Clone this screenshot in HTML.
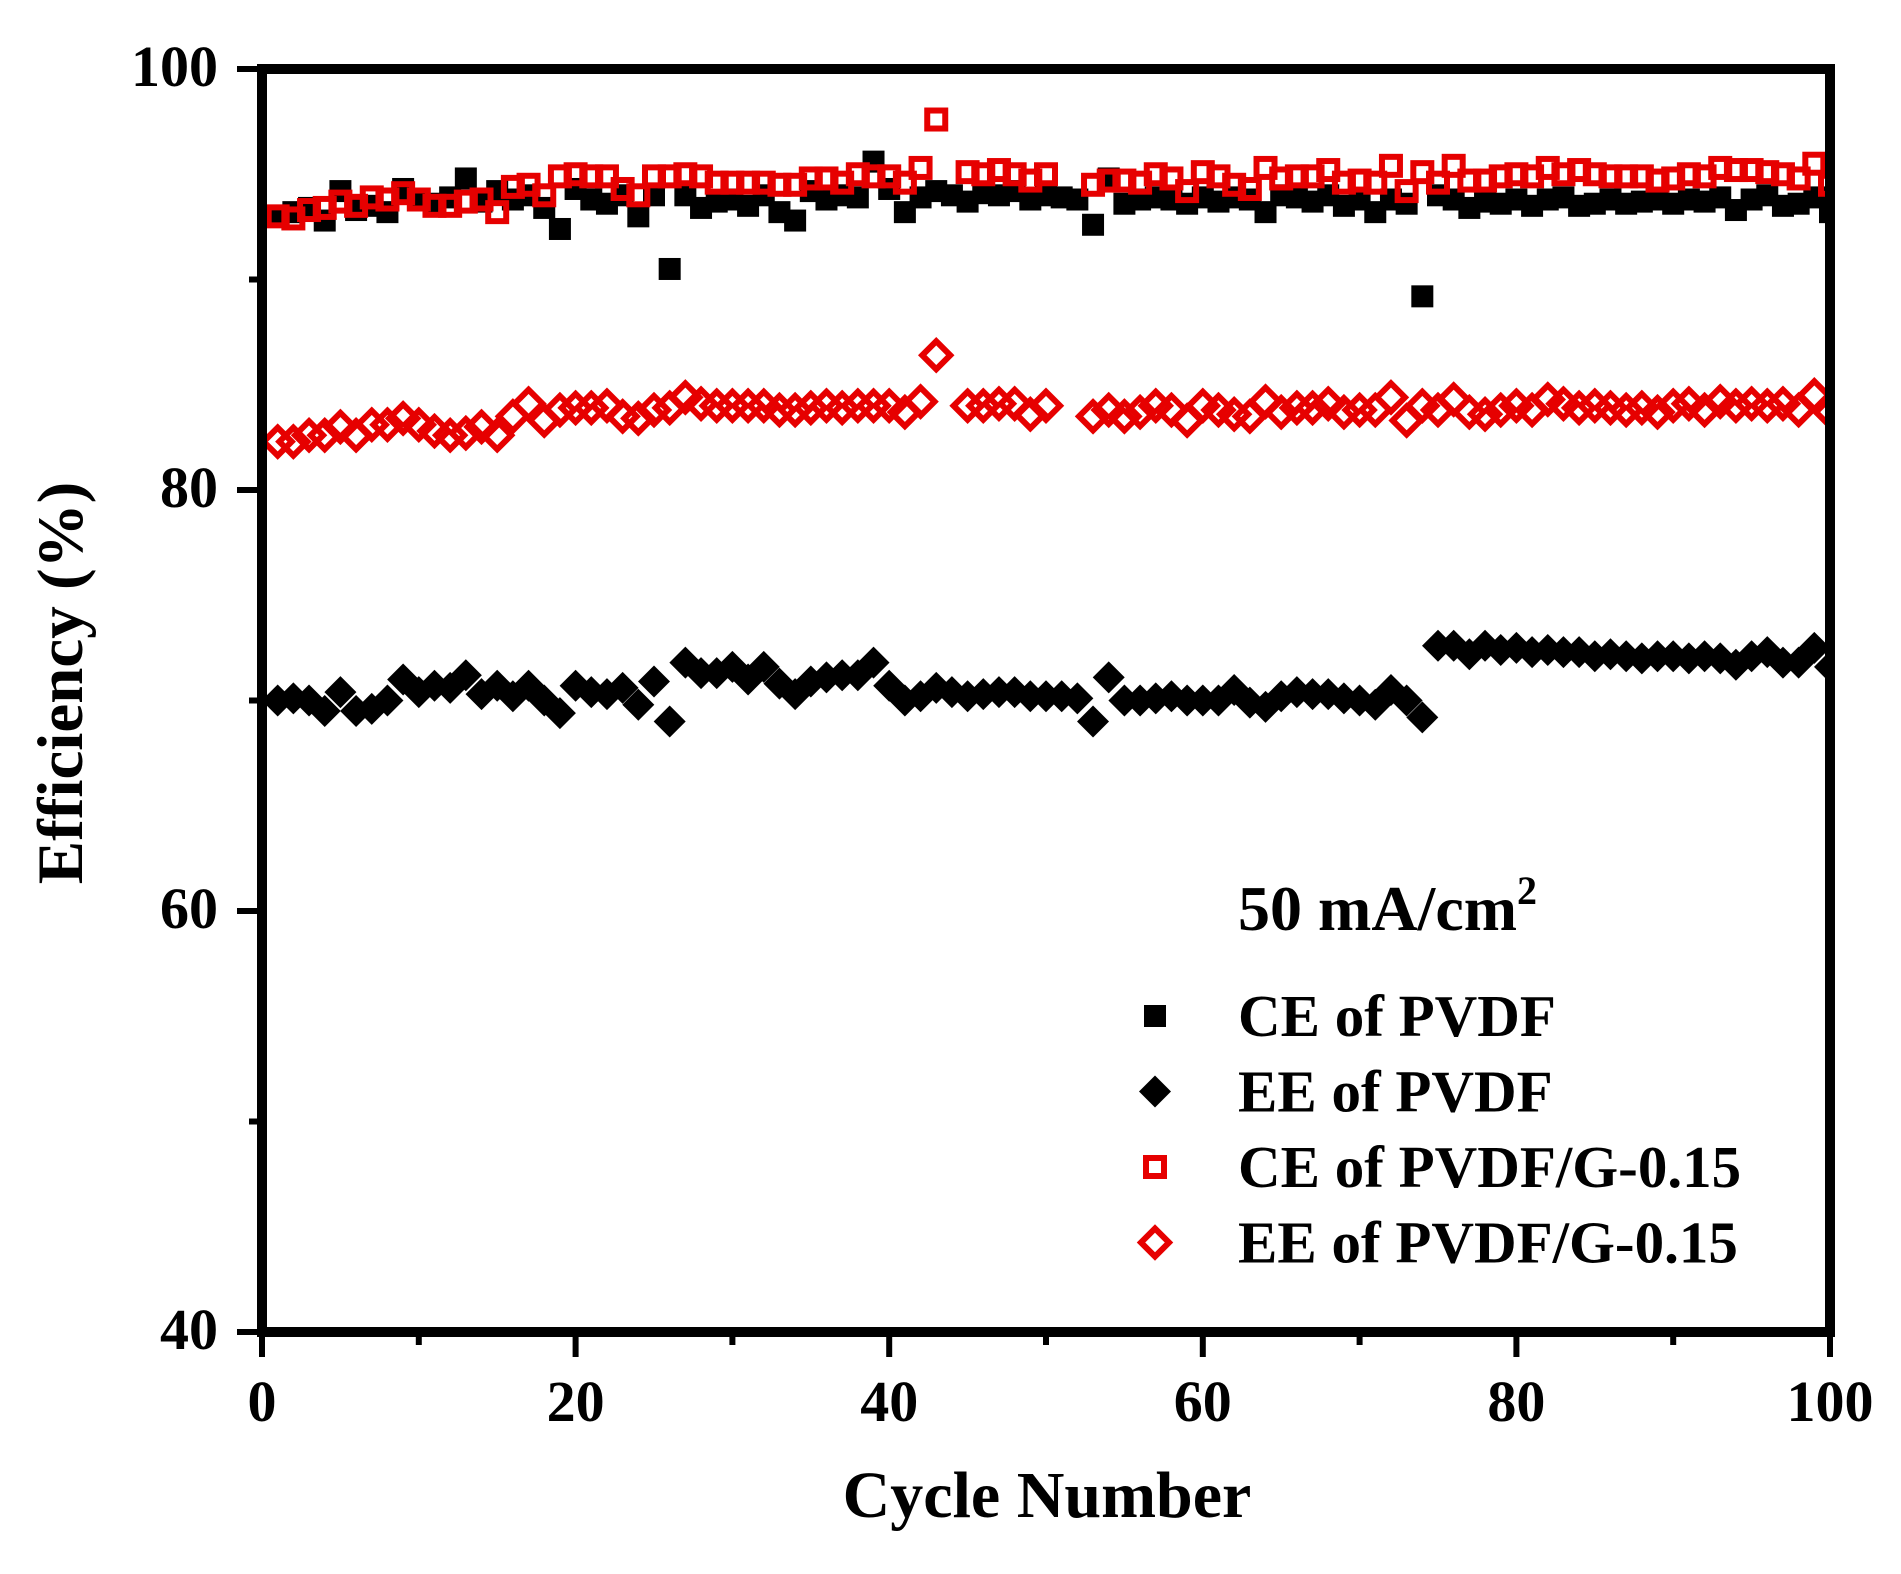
<!DOCTYPE html>
<html><head><meta charset="utf-8"><style>
html,body{margin:0;padding:0;background:#fff}
svg text{font-family:"Liberation Serif",serif;font-weight:bold;fill:#000}
</style></head><body>
<svg id="chart" width="1901" height="1569" viewBox="0 0 1901 1569" xmlns="http://www.w3.org/2000/svg">
<defs><clipPath id="clip"><rect x="262" y="69" width="1568" height="1263"/></clipPath></defs>
<g id="marks" clip-path="url(#clip)"></g>
<rect x="262" y="69" width="1568" height="1263" fill="none" stroke="#000" stroke-width="10"/>
<g id="axes"></g>
<text x="1047" y="1517" font-size="66" text-anchor="middle">Cycle Number</text>
<text transform="translate(82,683) rotate(-90)" font-size="65" text-anchor="middle">Efficiency (%)</text>
<text x="1238" y="930" font-size="64">50 mA/cm<tspan dy="-26" font-size="40">2</tspan></text>
<g id="legend"></g>
</svg>
<script>
const cycles = Array.from({length:100},(_,i)=>i+1);
const cePVDF = [93.0,93.2,93.4,92.8,94.2,93.3,93.5,93.2,94.3,93.8,
93.6,93.9,94.8,93.7,94.2,93.8,94.0,93.4,92.4,94.3,
93.8,93.6,94.0,93.0,94.0,90.5,94.0,93.4,93.7,93.8,
93.5,94.0,93.2,92.8,94.2,93.8,94.0,93.9,95.6,94.3,
93.2,93.9,94.2,94.0,93.7,94.1,94.0,94.2,93.8,94.0,
93.9,93.8,92.6,94.8,93.6,93.8,93.9,93.8,93.6,93.9,
93.7,93.9,93.8,93.2,94.0,93.9,93.7,94.0,93.5,93.8,
93.2,93.8,93.6,89.2,94.0,93.8,93.4,93.7,93.6,93.8,
93.5,93.8,93.9,93.5,93.6,93.8,93.6,93.7,93.8,93.6,
93.8,93.7,93.9,93.3,93.8,94.0,93.5,93.6,93.9,93.2];
const eePVDF = [70.0,70.1,70.0,69.5,70.4,69.5,69.6,70.0,71.0,70.4,
70.7,70.6,71.2,70.3,70.7,70.2,70.7,70.0,69.4,70.7,
70.4,70.3,70.6,69.8,70.9,69.0,71.8,71.3,71.3,71.6,
71.0,71.6,70.8,70.3,70.9,71.1,71.2,71.2,71.8,70.7,
70.0,70.2,70.6,70.4,70.2,70.3,70.4,70.4,70.2,70.2,
70.2,70.1,69.0,71.1,70.0,70.0,70.1,70.2,70.0,70.0,
70.0,70.5,69.9,69.7,70.2,70.4,70.3,70.3,70.1,70.0,
69.8,70.5,70.0,69.2,72.6,72.6,72.2,72.6,72.4,72.5,
72.3,72.4,72.3,72.3,72.1,72.2,72.1,72.0,72.1,72.1,
72.0,72.1,72.0,71.7,72.1,72.3,71.8,71.8,72.5,71.6];
const ceG = [93.0,92.9,93.3,93.4,93.7,93.5,93.9,93.8,94.1,93.8,
93.5,93.5,93.7,93.8,93.2,94.4,94.5,94.0,94.9,95.0,
94.9,94.9,94.3,94.0,94.9,94.9,95.0,94.9,94.6,94.6,
94.6,94.6,94.5,94.5,94.8,94.8,94.6,95.0,94.9,94.9,
94.6,95.3,97.6,null,95.1,95.0,95.2,95.0,94.7,95.0,
null,null,94.5,94.7,94.7,94.6,95.0,94.8,94.2,95.1,
94.9,94.5,94.3,95.3,94.8,94.9,94.9,95.2,94.6,94.7,
94.6,95.4,94.2,95.1,94.6,95.4,94.7,94.7,94.9,95.0,
94.9,95.3,95.0,95.2,95.0,94.9,94.9,94.9,94.7,94.8,
95.0,94.9,95.3,95.2,95.2,95.1,95.0,94.8,95.5,94.5];
const eeG = [82.3,82.3,82.6,82.6,83.0,82.6,83.1,83.1,83.4,83.1,
82.8,82.6,82.7,83.0,82.6,83.5,84.1,83.3,83.8,83.9,
83.9,84.0,83.5,83.4,83.8,83.9,84.4,84.1,84.0,84.0,
84.0,84.0,83.8,83.8,83.9,84.0,83.9,84.0,84.0,84.0,
83.7,84.2,86.4,null,84.0,84.0,84.1,84.1,83.6,84.0,
null,null,83.5,83.8,83.5,83.7,84.0,83.8,83.3,84.0,
83.8,83.6,83.5,84.2,83.7,83.9,83.9,84.1,83.7,83.8,
83.8,84.4,83.3,84.0,83.8,84.3,83.7,83.6,83.8,84.0,
83.8,84.3,84.1,83.9,84.0,83.9,83.8,83.9,83.7,84.0,
84.1,83.8,84.2,84.0,84.1,84.0,84.1,83.8,84.5,83.7];
const xTicks = [0,20,40,60,80,100];
const yTicks = [40,60,80,100];
const legendLabels = ["CE of PVDF","EE of PVDF","CE of PVDF/G-0.15","EE of PVDF/G-0.15"];

const NS="http://www.w3.org/2000/svg";
const X0=262,X1=1830,Y0=1332,Y1=69;
const xs=v=>X0+(v-0)/(100-0)*(X1-X0);
const ys=v=>Y0-(v-40)/(100-40)*(Y0-Y1);
function mk(tag,at){const e=document.createElementNS(NS,tag);for(const k in at)e.setAttribute(k,at[k]);return e;}
function marker(kind,cx,cy){
  let e;
  if(kind===0){e=mk('rect',{x:cx-11,y:cy-11,width:22,height:22,fill:'#000'});}
  else if(kind===1){e=mk('polygon',{points:`${cx},${cy-16} ${cx+16},${cy} ${cx},${cy+16} ${cx-16},${cy}`,fill:'#000'});}
  else if(kind===2){e=mk('rect',{x:cx-9,y:cy-9,width:18,height:18,fill:'none',stroke:'#e60000','stroke-width':6});}
  else {e=mk('polygon',{points:`${cx},${cy-14} ${cx+14},${cy} ${cx},${cy+14} ${cx-14},${cy}`,fill:'none',stroke:'#e60000','stroke-width':6});}
  return e;
}
const marks=document.getElementById('marks');
const series=[cePVDF,eePVDF,ceG,eeG];
const names=['ce-pvdf','ee-pvdf','ce-pvdf-g','ee-pvdf-g'];
series.forEach((arr,si)=>{
  const g=mk('g',{});
  
  
  arr.forEach((v,i)=>{
    if(v===null)return;
    const m=marker(si,xs(cycles[i]),ys(v));
    
    
    g.appendChild(m);
  });
  marks.appendChild(g);
});
const axes=document.getElementById('axes');
for(let v=0;v<=100;v+=10){
  const major=v%20===0;
  const t=mk('line',{x1:xs(v),x2:xs(v),y1:Y0,y2:Y0+(major?25:13),stroke:'#000','stroke-width':6});
  
  
  axes.appendChild(t);
}
for(let v=40;v<=100;v+=10){
  const major=v%20===0;
  const t=mk('line',{x1:X0-(major?25:13),x2:X0,y1:ys(v),y2:ys(v),stroke:'#000','stroke-width':6});
  
  
  axes.appendChild(t);
}
xTicks.forEach(v=>{
  const t=mk('text',{x:xs(v),y:1421,'font-size':58,'text-anchor':'middle'});
  t.textContent=v;
  
  
  axes.appendChild(t);
});
yTicks.forEach(v=>{
  const t=mk('text',{x:218,y:ys(v)+17,'font-size':58,'text-anchor':'end'});
  t.textContent=v;
  
  
  axes.appendChild(t);
});
const lg=document.getElementById('legend');
legendLabels.forEach((lab,i)=>{
  const cy=1016+i*75.5;
  const g=mk('g',{});
  
  
  g.appendChild(marker(i,1155,cy));
  const t=mk('text',{x:1238,y:cy+20,'font-size':59});
  t.textContent=lab;
  g.appendChild(t);
  lg.appendChild(g);
});
</script>
</body></html>
